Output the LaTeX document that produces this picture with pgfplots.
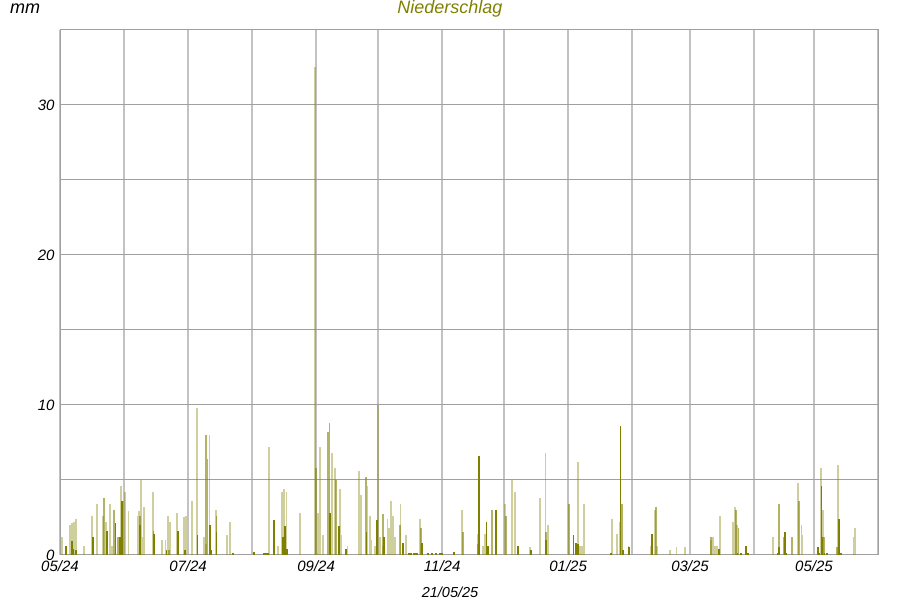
\documentclass[border=0pt]{standalone}
\usepackage{pgfplots}
\pgfplotsset{compat=1.18}
\usepackage{fontspec}
\setmainfont{Liberation Sans}
\definecolor{olv}{RGB}{128,128,0}
\definecolor{vgrid}{RGB}{194,194,194}
\definecolor{hgrid}{RGB}{160,160,160}
\begin{document}
\begin{tikzpicture}[x=1bp,y=1bp]
\useasboundingbox (0,0) rectangle (900,600);
\begin{axis}[
 at={(60bp,45bp)}, anchor=south west,
 width=818bp, height=525bp, scale only axis,
 xmin=0, xmax=396, ymin=0, ymax=35,
 xtick={0,31,62,93,124,154,185,215,246,277,305,336,365,396},
 xticklabels={05/24,,07/24,,09/24,,11/24,,01/25,,03/25,,05/25,},
 ytick={0,5,...,35},
 yticklabels={0,,10,,20,,30,},
 grid=major,
 x grid style={vgrid, line width=2bp},
 y grid style={hgrid, line width=1bp},
 axis line style={hgrid, line width=1bp},
 major tick length=0pt,
 tick label style={font=\itshape\fontsize{15bp}{18bp}\selectfont},
 yticklabel style={xshift=-2bp},
 xticklabel style={yshift=-2bp},
 /pgf/number format/assume math mode=true,
 clip=true,
]
% light bars
\addplot[ycomb, no marks, draw=olv, draw opacity=0.38, line width=1.7bp] table {
x y
1.1 1.22
4.8 2.0
5.7 2.15
6.8 2.2
7.6 2.4
11.6 0.63
15.6 2.6
17.8 3.4
20.7 2.6
22.3 2.2
24.2 3.4
25.2 0.6
29.4 4.6
30.6 3.6
31.5 4.2
33.1 2.9
37.6 2.6
38.2 2.9
39.1 5.0
39.8 1.2
40.8 3.2
45.0 4.2
49.5 1.0
51.1 1.0
52.4 2.6
53.1 2.2
56.6 2.8
60.0 2.5
61.0 2.6
64.0 3.6
66.4 9.8
69.8 1.2
70.6 0.7
72.3 8.0
75.5 3.0
81.0 1.3
82.3 2.2
101.3 7.2
105.7 0.6
107.6 4.2
108.6 4.4
109.7 4.2
116.2 2.8
123.4 32.5
125.0 2.8
125.8 7.2
127.3 1.3
131.8 6.8
133.1 5.8
135.5 4.4
136.3 1.3
138.4 0.4
139.2 0.6
144.6 5.6
145.7 4.0
148.9 4.6
150.0 2.6
150.6 1.0
152.6 0.6
154.1 10.0
154.9 1.2
156.2 0.6
158.6 2.4
159.2 1.8
160.2 3.6
161.2 2.6
162.2 1.2
164.9 3.4
167.5 1.3
174.2 2.4
194.7 3.0
202.2 1.4
204.7 0.6
205.4 0.6
205.9 1.4
215.4 3.4
218.9 5.0
220.4 4.2
227.5 0.5
232.5 3.8
235.1 6.8
236.3 2.0
250.6 6.2
251.7 0.6
252.7 0.6
253.8 3.4
267.2 2.4
269.7 1.4
271.0 2.2
275.2 0.6
285.9 0.6
288.1 3.0
288.9 0.6
295.2 0.35
298.5 0.5
302.4 0.5
315.1 1.0
316.1 1.2
317.0 0.6
318.0 0.6
319.5 2.6
325.8 2.2
326.7 3.2
327.7 2.0
345.3 1.2
357.4 4.8
359.0 2.0
359.5 1.3
368.3 5.8
369.3 3.0
376.7 6.0
384.2 1.2
384.8 1.8
};
% medium bars
\addplot[ycomb, no marks, draw=olv, draw opacity=0.6, line width=1.7bp] table {
x y
21.4 3.8
26.3 3.0
28.1 1.2
38.6 2.6
45.3 1.6
52.6 0.3
57.0 1.0
70.8 8.0
71.1 6.4
75.8 2.6
123.9 5.8
129.9 8.2
130.4 8.8
133.7 5.0
148.1 5.2
156.5 2.7
164.6 2.0
174.8 1.8
195.0 1.5
202.5 0.7
209.0 3.0
209.3 3.0
215.9 2.6
235.4 1.5
246.3 3.4
272.0 3.4
288.5 3.2
315.0 1.2
327.2 3.0
328.5 1.8
347.9 3.4
350.6 1.2
354.5 1.2
357.6 3.6
369.9 1.2
376.1 0.5
376.9 2.4
};
% dark bars
\addplot[ycomb, no marks, draw=olv, line width=1.7bp] table {
x y
2.9 0.6
5.7 0.9
6.3 0.4
7.7 0.3
16.0 1.2
22.6 1.6
26.8 2.1
28.9 1.2
29.9 3.6
38.7 2.0
45.5 1.4
51.6 0.3
57.0 1.6
60.5 0.3
66.6 1.3
72.5 2.0
73.0 0.3
75.8 1.5
83.7 0.1
93.9 0.2
98.7 0.15
99.2 0.15
100.2 0.15
100.7 0.15
103.6 2.3
108.1 1.2
109.0 1.9
110.0 0.4
130.7 2.8
135.2 1.9
138.5 0.4
148.4 1.5
153.3 2.3
156.9 1.2
165.9 0.8
169.0 0.15
170.0 0.15
171.5 0.15
172.5 0.15
173.0 0.15
175.1 0.8
178.0 0.15
180.0 0.15
182.0 0.15
184.0 0.15
184.9 0.1
190.7 0.2
202.8 6.6
206.5 2.2
207.2 0.6
211.2 3.0
221.8 0.6
228.0 0.35
235.3 1.0
248.6 1.3
249.9 0.8
250.7 0.7
266.6 0.15
271.3 8.6
272.6 0.3
275.6 0.5
286.6 1.4
319.1 0.4
328.0 0.15
329.7 0.15
332.0 0.6
333.0 0.15
347.4 0.15
348.2 0.5
350.9 1.5
351.4 0.15
367.0 0.5
367.5 0.15
368.6 4.6
368.9 1.2
370.1 0.15
371.2 0.15
377.2 2.4
378.0 0.15
};
\end{axis}
\node[font=\itshape\fontsize{18bp}{21bp}\selectfont, text=olv] at (450,591) {Niederschlag};
\node[font=\itshape\fontsize{18bp}{21bp}\selectfont] at (25,591) {mm};
\node[font=\itshape\fontsize{14.5bp}{17bp}\selectfont] at (450,8) {21/05/25};
\end{tikzpicture}
\end{document}
